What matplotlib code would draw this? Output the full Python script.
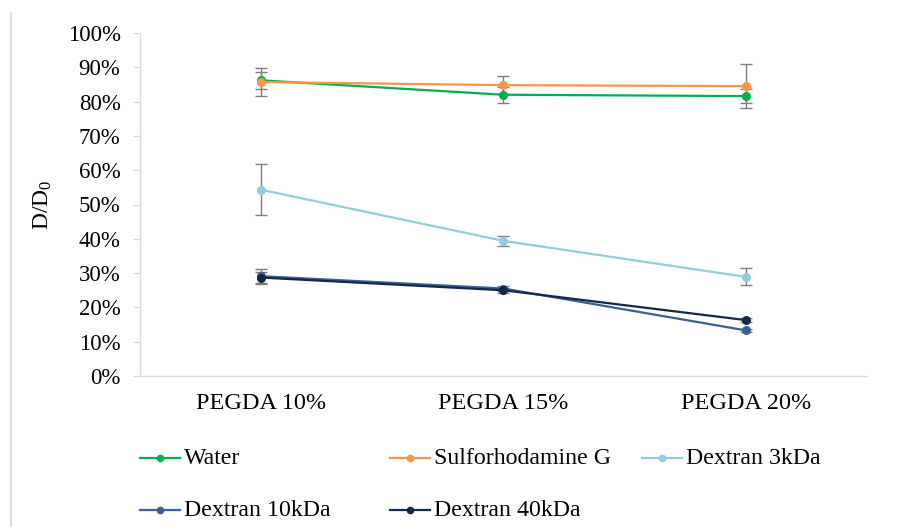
import matplotlib
matplotlib.use("Agg")
import matplotlib.pyplot as plt
from matplotlib.lines import Line2D
from matplotlib.ticker import FuncFormatter, MultipleLocator

plt.rcParams["font.family"] = ["Liberation Serif", "DejaVu Serif"]
plt.rcParams["mathtext.fontset"] = "custom"
plt.rcParams["mathtext.rm"] = "Liberation Serif"
plt.rcParams["mathtext.it"] = "Liberation Serif:italic"

# Data: relative diffusivity D/D0 (%) in PEGDA hydrogels
categories = ["PEGDA 10%", "PEGDA 15%", "PEGDA 20%"]
series_names = ["Water", "Sulforhodamine G", "Dextran 3kDa", "Dextran 10kDa", "Dextran 40kDa"]
water = [86.2, 82.0, 81.6]
water_err = [2.4, 2.3, 2.0]
sulforhodamine = [85.7, 84.8, 84.5]
sulforhodamine_err = [4.2, 2.6, 6.5]
dextran_3k = [54.3, 39.4, 28.9]
dextran_3k_err = [7.5, 1.5, 2.5]
dextran_10k = [29.1, 25.5, 13.3]
dextran_10k_err = [2.2, 0.8, 0.5]
dextran_40k = [28.7, 25.0, 16.3]
dextran_40k_err = [1.5, 0.8, 0.5]

values = [water, sulforhodamine, dextran_3k, dextran_10k, dextran_40k]
errors = [water_err, sulforhodamine_err, dextran_3k_err, dextran_10k_err, dextran_40k_err]
colors = ["#00B050", "#F79646", "#92CDDC", "#3A6095", "#14284A"]

W, H = 903, 527
fig = plt.figure(figsize=(W / 100, H / 100), dpi=100)
ax = fig.add_axes([140 / W, (H - 376) / H, 727 / W, 343 / H])

x = list(range(len(categories)))
for vals, errs, col in zip(values, errors, colors):
    ax.errorbar(x, vals, yerr=errs, color=col, lw=1.6, marker="o", ms=5.5,
                ecolor="#7F7F7F", elinewidth=1.0, capsize=4.5, capthick=1.0,
                zorder=3)

ax.set_xlim(-0.5, len(categories) - 0.5)
ax.set_ylim(0, 100)
ax.yaxis.set_major_locator(MultipleLocator(10))
ax.yaxis.set_major_formatter(FuncFormatter(lambda v, p: f"{v:.0f}%"))
ax.set_xticks(x)
ax.set_xticklabels(categories)

for side in ("top", "right"):
    ax.spines[side].set_visible(False)
for side in ("left", "bottom"):
    ax.spines[side].set_color("#D9D9D9")
    ax.spines[side].set_linewidth(1.0)

ax.tick_params(axis="y", labelsize=16.5, length=5, color="#D9D9D9", pad=9)
ax.tick_params(axis="x", labelsize=17.5, length=0, pad=12)

ax.set_ylabel("D/D$_0$", fontsize=17)
ax.yaxis.set_label_coords(-86 / 727, 0.5)

# Legend laid out in fixed-width columns below the axes
col_x = [140, 390, 642]
row_y = [458, 510]
for i, (name, col) in enumerate(zip(series_names, colors)):
    r, c = divmod(i, 3)
    x0 = col_x[c]
    y0 = row_y[r]
    fig.add_artist(Line2D([x0 / W, (x0 + 40) / W], [1 - y0 / H, 1 - y0 / H],
                          color=col, lw=1.6, transform=fig.transFigure))
    fig.add_artist(Line2D([(x0 + 20) / W], [1 - y0 / H], color=col, marker="o",
                          ms=4.5, transform=fig.transFigure))
    fig.text((x0 + 44) / W, 1 - y0 / H, name, fontsize=17.2, va="center", ha="left")

# Left border of the chart frame
fig.add_artist(Line2D([11 / W, 11 / W], [1 - 13 / H, 0], color="#D9D9D9", lw=1.2,
                      transform=fig.transFigure))

fig.savefig("out.png", dpi=100)
